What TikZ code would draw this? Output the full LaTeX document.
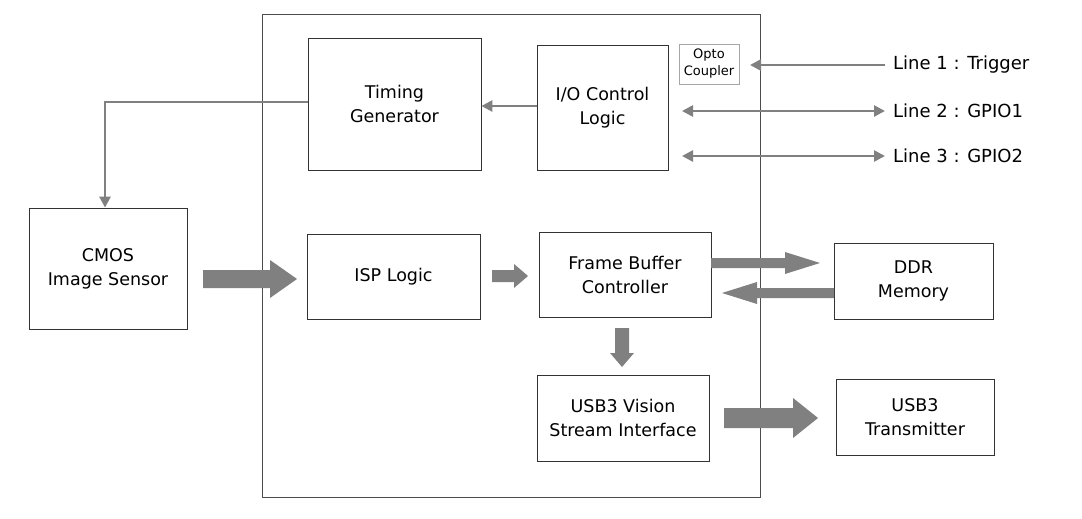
\documentclass[tikz,border=0pt]{standalone}
\usepackage{fontspec}
\setmainfont{DejaVu Sans}
\usetikzlibrary{arrows.meta}
\definecolor{ag}{HTML}{808080}
\begin{document}
\begin{tikzpicture}[x=1pt,y=-1pt,
  blk/.style={draw=black!80,line width=0.8pt,align=center,inner sep=0pt,font=\fontsize{17.5}{24}\selectfont},
  thin/.style={draw=ag,line width=2.6pt,-{Triangle[length=11pt,width=11pt]}},
  lbl/.style={anchor=west,inner sep=0pt,font=\fontsize{18}{22}\selectfont}]
\useasboundingbox (0,0) rectangle (1082,519);
\newcommand{\bx}[6]{\node[blk,minimum width=#4-#2,minimum height=#5-#3] (#1) at ({(#2+#4)/2},{(#3+#5)/2}) {#6};}
\draw[black!70,line width=0.8pt] (262,14) rectangle (760,497);
\bx{tg}{308}{38}{481}{170}{Timing\\Generator}
\bx{io}{537}{45}{668}{170}{I/O Control\\Logic}
\node[draw=black!35,line width=0.8pt,minimum width=60pt,minimum height=40pt,inner sep=0pt,align=center,font=\fontsize{13}{17}\selectfont] (op) at (709,64) {Opto\\Coupler};
\bx{cm}{29}{208}{187}{329}{CMOS\\Image Sensor}
\bx{isp}{307}{234}{480}{319}{ISP Logic}
\bx{fb}{539}{232}{711}{317}{Frame Buffer\\Controller}
\bx{us}{537}{375}{709}{461}{USB3 Vision\\Stream Interface}
\bx{dd}{834}{243}{993}{319}{DDR\\Memory}
\bx{tx}{836}{379}{994}{455}{USB3\\Transmitter}
\node[lbl] (l1) at (893,65) {Line 1 : Trigger};
\node[lbl] (l2) at (893,111) {Line 2 : GPIO1};
\node[lbl] (l3) at (893,156) {Line 3 : GPIO2};
\coordinate (t1) at (750,65);
\coordinate (e1) at (885,65);
\coordinate (e2) at (885,111);
\coordinate (e3) at (885,156);
\coordinate (a2) at (682,111);
\coordinate (a3) at (682,156);
\draw[thin] (e1) -- (t1);
\draw[thin,{Triangle[length=11pt,width=11pt]}-{Triangle[length=11pt,width=11pt]}] (a2) -- (e2);
\draw[thin,{Triangle[length=11pt,width=11pt]}-{Triangle[length=11pt,width=11pt]}] (a3) -- (e3);
\draw[thin] (io.west |- 0,106) -- (tg.east |- 0,106);
\draw[thin] (tg.west |- 0,102) -| (cm.north -| 105,0);
% block arrows
\fill[ag] (203,270) -- (270,270) -- (270,260) -- (297,279) -- (270,298) -- (270,288) -- (203,288) -- cycle;
\fill[ag] (492,270) -- (514,270) -- (514,264) -- (528,276) -- (514,288) -- (514,282) -- (492,282) -- cycle;
\fill[ag] (711,258) -- (785,258) -- (785,252) -- (820,263) -- (785,274) -- (785,268) -- (711,268) -- cycle;
\fill[ag] (834,288) -- (757,288) -- (757,282) -- (722,293) -- (757,304) -- (757,298) -- (834,298) -- cycle;
\fill[ag] (615,328) -- (629,328) -- (629,353) -- (634,353) -- (622,367) -- (610,353) -- (615,353) -- cycle;
\fill[ag] (724,408) -- (793,408) -- (793,398) -- (818,418) -- (793,438) -- (793,428) -- (724,428) -- cycle;
\end{tikzpicture}
\end{document}
